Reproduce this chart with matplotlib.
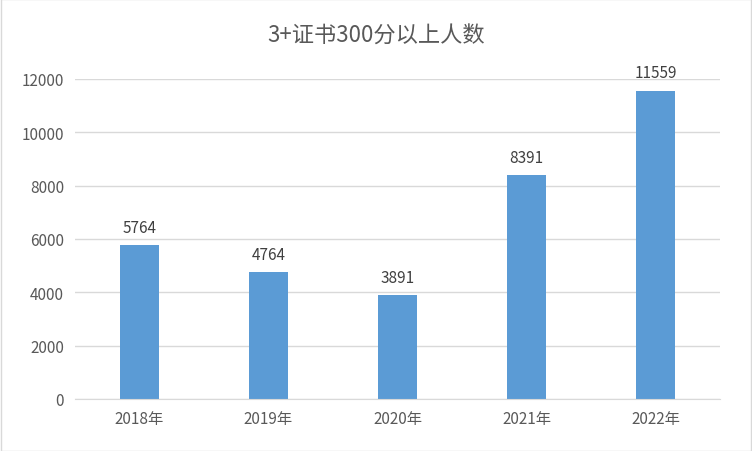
import matplotlib
matplotlib.use('Agg')
import matplotlib.pyplot as plt

plt.rcParams['font.family'] = ['Noto Sans CJK SC', 'DejaVu Sans']

years = ['2018年', '2019年', '2020年', '2021年', '2022年']
counts = [5764, 4764, 3891, 8391, 11559]

fig = plt.figure(figsize=(7.52, 4.52), dpi=100)
fig.patches.append(plt.Rectangle((0.001, 0.001), 0.998, 0.998, transform=fig.transFigure,
                                 fill=False, edgecolor='#D9D9D9', linewidth=1))
ax = fig.add_axes([75/752, 52/452, 645/752, 320/452])

x = range(len(years))
ax.bar(x, counts, width=0.31, color='#5B9BD5', zorder=2)
for i, v in zip(x, counts):
    ax.text(i, v + 350, str(v), ha='center', va='bottom', fontsize=11, color='#404040')

ax.set_xlim(-0.5, len(years) - 0.5)
ax.set_ylim(0, 12000)
ax.set_yticks(range(0, 12001, 2000))
ax.set_xticks(list(x))
ax.set_xticklabels(years)
ax.grid(axis='y', color='#D9D9D9', linewidth=1, zorder=0)
ax.tick_params(length=0, labelsize=11, labelcolor='#595959', pad=8)
for s in ['top', 'right', 'left']:
    ax.spines[s].set_visible(False)
ax.spines['bottom'].set_color('#D9D9D9')

fig.text(0.5, 0.92, '3+证书300分以上人数', ha='center', va='center', fontsize=16, color='#595959')

fig.savefig('out.png', dpi=100)
